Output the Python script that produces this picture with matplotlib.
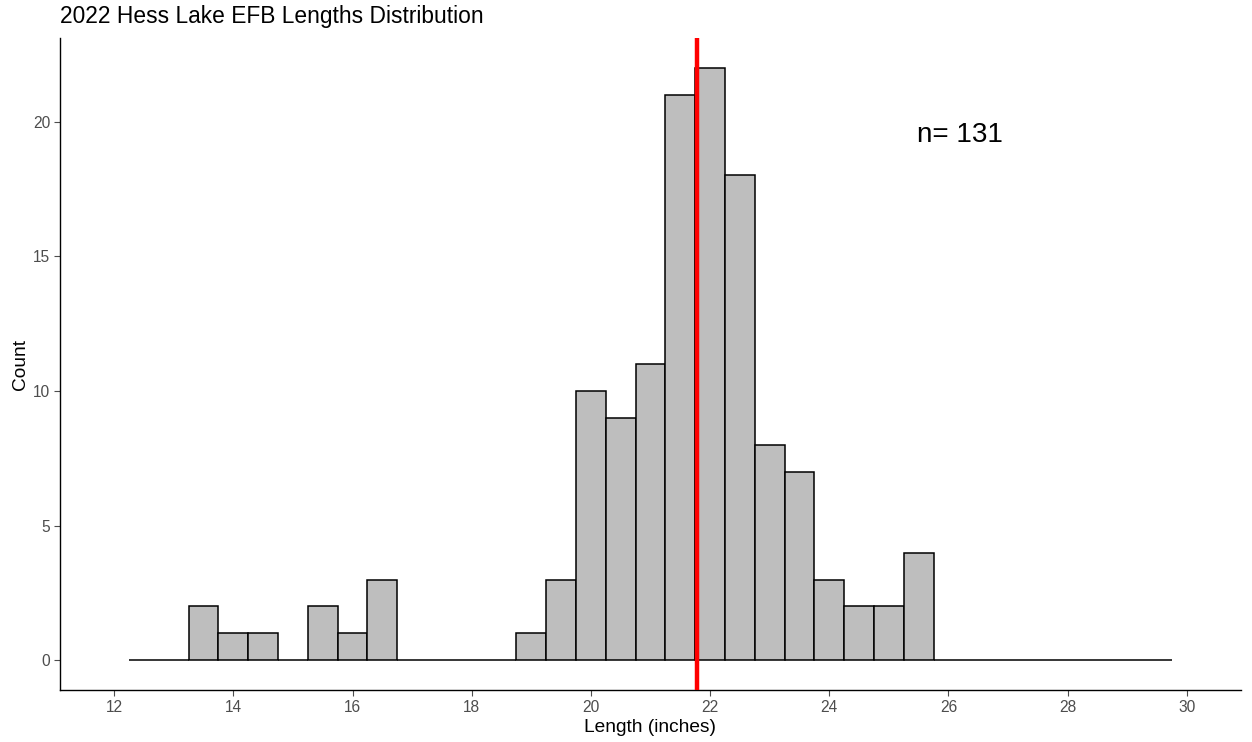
import matplotlib
matplotlib.use("Agg")
import matplotlib.pyplot as plt
import numpy as np

plt.rcParams['font.family'] = ['Liberation Sans', 'DejaVu Sans']

# Histogram bins (centers, width 0.5 inch) and counts
bin_centers = [12.5, 13.0, 13.5, 14.0, 14.5, 15.0, 15.5, 16.0, 16.5, 17.0, 17.5, 18.0,
               18.5, 19.0, 19.5, 20.0, 20.5, 21.0, 21.5, 22.0, 22.5, 23.0, 23.5, 24.0,
               24.5, 25.0, 25.5, 26.0, 26.5, 27.0, 27.5, 28.0, 28.5, 29.0, 29.5]
counts = [0, 0, 2, 1, 1, 0, 2, 1, 3, 0, 0, 0,
          0, 1, 3, 10, 9, 11, 21, 22, 18, 8, 7, 3,
          2, 2, 4, 0, 0, 0, 0, 0, 0, 0, 0]
bin_width = 0.5
mean_length = 21.78
n_label = "n= 131"
x_ticks = [12, 14, 16, 18, 20, 22, 24, 26, 28, 30]
y_ticks = [0, 5, 10, 15, 20]

fig = plt.figure(figsize=(12.52, 7.42), dpi=100)
ax = fig.add_axes([60/1252, 1 - 690/742, (1241-60)/1252, (690-38)/742])

ax.bar(bin_centers, counts, width=bin_width, color='#BEBEBE', edgecolor='black',
       linewidth=1.1, zorder=2)
ax.axvline(mean_length, color='red', linewidth=3.2, zorder=3)
ax.text(26.2, 19.5, n_label, fontsize=20, ha='center', va='center', color='black')

ax.set_xlim(11.09, 30.91)
ax.set_ylim(-1.1, 23.1)
ax.set_xticks(x_ticks)
ax.set_yticks(y_ticks)
ax.tick_params(axis='both', colors='#4D4D4D', labelsize=11.2, length=4, width=0.8,
               labelcolor='#4D4D4D', pad=3)
for s in ['top', 'right']:
    ax.spines[s].set_visible(False)
for s in ['left', 'bottom']:
    ax.spines[s].set_color('black')
    ax.spines[s].set_linewidth(1.0)

ax.set_xlabel('Length (inches)', fontsize=13.8, color='black', labelpad=3)
ax.set_ylabel('Count', fontsize=13.8, color='black', labelpad=3)
fig.text(60/1252, 1 - 17/742, '2022 Hess Lake EFB Lengths Distribution', fontsize=16.4,
         ha='left', va='center', color='black')

fig.savefig('out.png', dpi=100)
